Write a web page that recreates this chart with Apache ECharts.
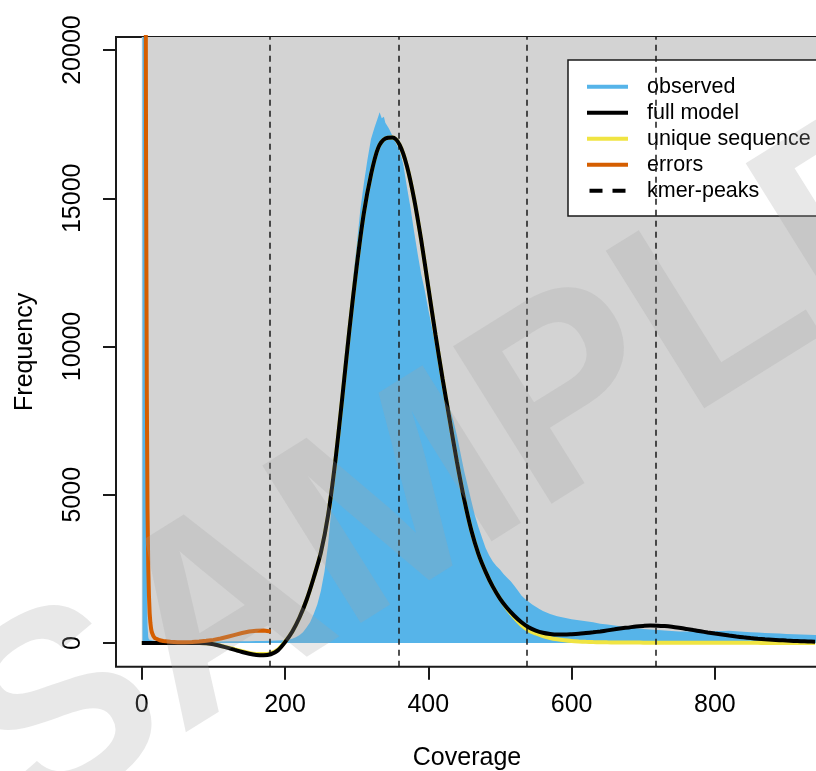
<!DOCTYPE html>
<html>
<head>
<meta charset="utf-8">
<title>k-mer profile</title>
<script src="https://cdn.jsdelivr.net/npm/echarts@6.0.0/dist/echarts.min.js"></script>
<style>
  html, body { margin: 0; padding: 0; background: #fff; }
  #chart { width: 816px; height: 771px; }
</style>
</head>
<body>
<div id="chart"></div>
<script>
// 刻度
const xTicks = [0, 200, 400, 600, 800]
const yTicks = [0, 5000, 10000, 15000, 20000]
const peakPositions = [179.3, 358.6, 537.9, 717.2]

// observed histogram
const obsCoverage = [1, 2, 3, 4, 5, 6, 7, 8, 9, 10, 15, 20, 30, 40, 50, 60, 70, 80, 90, 100, 110, 120, 130, 140, 150, 160, 170, 180, 190, 200,
  205, 210, 215, 220, 225, 230, 235, 240, 245, 250, 255, 260, 265, 270, 275, 280, 285, 290, 295, 300, 305, 310, 315, 320, 325, 330, 332, 335, 338,
  340, 345, 350, 355, 360, 365, 370, 375, 380, 385, 390, 395, 400, 405, 410, 415, 420, 425, 430, 435, 440, 445, 450, 455, 460, 465, 470, 475,
  480, 485, 490, 495, 500, 505, 510, 515, 520, 525, 530, 535, 540, 545, 550, 555, 560,
  570, 580, 590, 600, 610, 620, 630, 640, 650, 660, 670, 680, 690, 700, 710, 720, 730, 740, 750, 760, 770, 780, 790, 800, 810, 820, 830,
  840, 850, 860, 870, 880, 890, 900, 910, 920, 930, 940, 950]
const obsFrequency = [400000, 150000, 70000, 40000, 25000, 21000, 3000, 600, 200, 120, 80, 70, 60, 55, 50, 50, 50, 50, 50, 50, 50, 55, 55, 60, 60, 65, 70, 75, 80, 90,
  110, 140, 190, 260, 360, 520, 700, 980, 1300, 1750, 2400, 3300, 4600, 6200, 7600, 8900, 10100, 11100, 12300, 13400, 14600, 15500, 16300, 17000, 17400, 17750, 17900, 17700, 17750,
  17550, 17350, 17100, 16850, 16600, 16150, 15400, 14700, 13900, 13150, 12450, 11900, 11250, 10650, 10050, 9450, 8850, 8300, 7900, 7500, 7000, 6400, 5800, 5300, 4800, 4300, 3900, 3550,
  3200, 2950, 2750, 2600, 2480, 2330, 2200, 2080, 1930, 1770, 1600, 1480, 1390, 1300, 1220, 1150, 1080,
  980, 900, 850, 800, 770, 730, 700, 650, 620, 590, 560, 530, 500, 475, 455, 435, 420, 400, 390, 385, 380, 380, 390, 400, 405, 410, 395,
  375, 360, 350, 340, 330, 320, 305, 295, 285, 275, 270, 265]

// model curves
const modelCoverage = [0, 10, 20, 30, 40, 50, 60, 70, 80, 90, 100, 110, 120, 130, 140, 150, 160, 170, 180, 190,
  200, 210, 220, 230, 240, 250, 260, 270, 280, 290, 300, 310, 320, 330, 340, 350, 360, 370, 380, 390,
  400, 410, 420, 430, 440, 450, 460, 470, 480, 490, 500, 510, 520, 530, 540, 550, 560, 570, 580, 590,
  600, 610, 620, 630, 640, 650, 660, 670, 680, 690, 700, 710, 720, 730, 740, 750, 760, 770, 780, 790,
  800, 810, 820, 830, 840, 850, 860, 870, 880, 890, 900, 910, 920, 930, 940]
const fullModel = [0, 0, 0, 0, 0, 0, 0, 0, 0, -10, -40, -100, -165, -235, -305, -365, -405, -415, -380, -250,
  30, 380, 850, 1450, 2200, 3050, 4300, 6100, 8300, 10600, 12700, 14500, 15800, 16700, 17020, 17050, 16800, 16100, 15000, 13600,
  12000, 10400, 8900, 7500, 6100, 4850, 3800, 3000, 2400, 1900, 1500, 1180, 920, 700, 530, 420, 345, 305, 285, 285,
  295, 310, 335, 360, 390, 425, 460, 495, 525, 555, 575, 588, 585, 570, 545, 512, 475, 435, 395, 355,
  318, 285, 250, 218, 190, 165, 143, 125, 110, 95, 82, 70, 60, 52, 45]
const uniqueSeq = [0, 0, 0, 0, 0, 0, 0, 0, 0, -10, -38, -92, -150, -215, -280, -335, -370, -375, -340, -220,
  40, 380, 850, 1450, 2200, 3050, 4300, 6100, 8300, 10600, 12700, 14500, 15800, 16700, 17020, 17050, 16800, 16100, 15000, 13600,
  12000, 10400, 8900, 7500, 6100, 4850, 3800, 3000, 2400, 1900, 1500, 1150, 860, 610, 430, 320, 235, 170, 125, 92,
  68, 52, 40, 32, 26, 22, 19, 17, 15, 13, 12, 11, 10, 9, 8, 8, 7, 7, 6, 6,
  5, 5, 5, 4, 4, 4, 4, 3, 3, 3, 3, 3, 2, 2, 2]

// errors
const errCoverage = [1, 2, 3, 4, 5, 6, 7, 8, 9, 10, 11, 12, 13, 14, 16, 18, 20, 25, 30, 40, 50, 60, 70, 80, 90, 100, 110, 120, 130, 140, 150, 160, 170, 180]
const errFrequency = [150000, 90000, 60000, 40000, 28000, 16000, 8500, 4500, 2600, 1600, 1000, 680, 480, 360, 240, 170, 130, 90, 65, 38, 25, 24, 32, 48, 72, 105, 150, 210, 275, 335, 385, 415, 420, 390]

const X_MIN = -36
const X_MAX = 944
const Y_MIN = -800
const Y_MAX = 20440

const pair = (xs, ys) => xs.map((x, i) => [x, ys[i]])
const FONT = 'Liberation Sans'

const myEchart = echarts.init(document.querySelector('#chart'), null, { renderer: 'canvas' })
myEchart.setOption({
  animation: false,
  textStyle: { fontFamily: FONT },
  grid: {
    left: 116,
    top: 37,
    width: 702,
    height: 629.7,
    show: true,
    containLabel: false,
    outerBoundsMode: 'none',
    borderColor: '#1a1a1a',
    borderWidth: 2,
    backgroundColor: 'transparent',
  },
  xAxis: {
    type: 'value',
    min: X_MIN,
    max: X_MAX,
    axisLine: { show: false, onZero: false },
    splitLine: { show: false },
    axisTick: {
      show: true,
      length: 13,
      customValues: xTicks,
      lineStyle: { color: '#1a1a1a', width: 2 },
    },
    axisLabel: {
      customValues: xTicks,
      formatter: (v) => String(v),
      fontSize: 25,
      color: '#000',
      margin: 26,
    },
    name: 'Coverage',
    nameLocation: 'middle',
    nameGap: 79,
    nameTextStyle: { fontSize: 25, color: '#000' },
  },
  yAxis: {
    type: 'value',
    min: Y_MIN,
    max: Y_MAX,
    axisLine: { show: false, onZero: false },
    splitLine: { show: false },
    axisTick: {
      show: true,
      length: 13,
      customValues: yTicks,
      lineStyle: { color: '#1a1a1a', width: 2 },
    },
    axisLabel: {
      customValues: yTicks,
      formatter: (v) => String(v),
      fontSize: 25,
      color: '#000',
      rotate: 90,
      margin: 30,
    },
    name: 'Frequency',
    nameLocation: 'middle',
    nameGap: 78,
    nameTextStyle: { fontSize: 25, color: '#000' },
  },
  legend: {
    orient: 'vertical',
    left: 568,
    top: 60,
    padding: [15.7, 30, 14.3, 19],
    itemGap: 4,
    itemWidth: 41,
    itemHeight: 4,
    backgroundColor: '#fff',
    borderColor: '#1a1a1a',
    borderWidth: 1.5,
    borderRadius: 0,
    textStyle: { fontSize: 21.5, color: '#000', lineHeight: 22, padding: [0, 0, 0, 14] },
    data: [
      { name: 'observed', icon: 'rect', itemStyle: { color: '#56B4E9' } },
      { name: 'full model', icon: 'rect', itemStyle: { color: '#000' } },
      { name: 'unique sequence', icon: 'rect', itemStyle: { color: '#F0E442' } },
      { name: 'errors', icon: 'rect', itemStyle: { color: '#D55E00' } },
      { name: 'kmer-peaks', icon: 'path://M0,0h13v4h-13z M23,0h13v4h-13z', itemStyle: { color: '#000' } },
    ],
  },
  graphic: {
    elements: [
      {
        // 水印
        type: 'text',
        x: 465,
        y: 470,
        rotation: (32 * Math.PI) / 180,
        z: 100,
        silent: true,
        style: {
          text: 'SAMPLE',
          font: 'bold 270px "Liberation Sans"',
          fill: 'rgba(163,163,163,0.25)',
          align: 'center',
          verticalAlign: 'middle',
        },
      },
    ],
  },
  series: [
    {
      // 灰色背景
      type: 'line',
      data: [],
      silent: true,
      z: 0,
      markArea: {
        silent: true,
        itemStyle: { color: '#D3D3D3' },
        data: [[{ coord: [0, 0] }, { coord: [X_MAX, Y_MAX] }]],
      },
    },
    {
      name: 'observed',
      type: 'line',
      data: pair(obsCoverage, obsFrequency),
      symbol: 'none',
      color: '#56B4E9',
      lineStyle: { width: 0 },
      areaStyle: { color: '#56B4E9', opacity: 1 },
      z: 2,
    },
    {
      name: 'kmer-peaks',
      type: 'line',
      data: [],
      symbol: 'none',
      color: '#000',
      z: 3,
      markLine: {
        symbol: 'none',
        silent: true,
        label: { show: false },
        lineStyle: { color: '#1a1a1a', type: [6, 5], width: 1.5 },
        data: peakPositions.map((p) => ({ xAxis: p })),
      },
    },
    {
      name: 'unique sequence',
      type: 'line',
      data: pair(modelCoverage, uniqueSeq),
      symbol: 'none',
      smooth: 0.3,
      color: '#F0E442',
      lineStyle: { width: 4, color: '#F0E442' },
      z: 4,
    },
    {
      name: 'full model',
      type: 'line',
      data: pair(modelCoverage, fullModel),
      symbol: 'none',
      smooth: 0.3,
      color: '#000',
      lineStyle: { width: 4, color: '#000' },
      z: 5,
    },
    {
      name: 'errors',
      type: 'line',
      data: pair(errCoverage, errFrequency),
      symbol: 'none',
      color: '#D55E00',
      lineStyle: { width: 4, color: '#D55E00', join: 'round' },
      z: 6,
    },
  ],
})
</script>
</body>
</html>
